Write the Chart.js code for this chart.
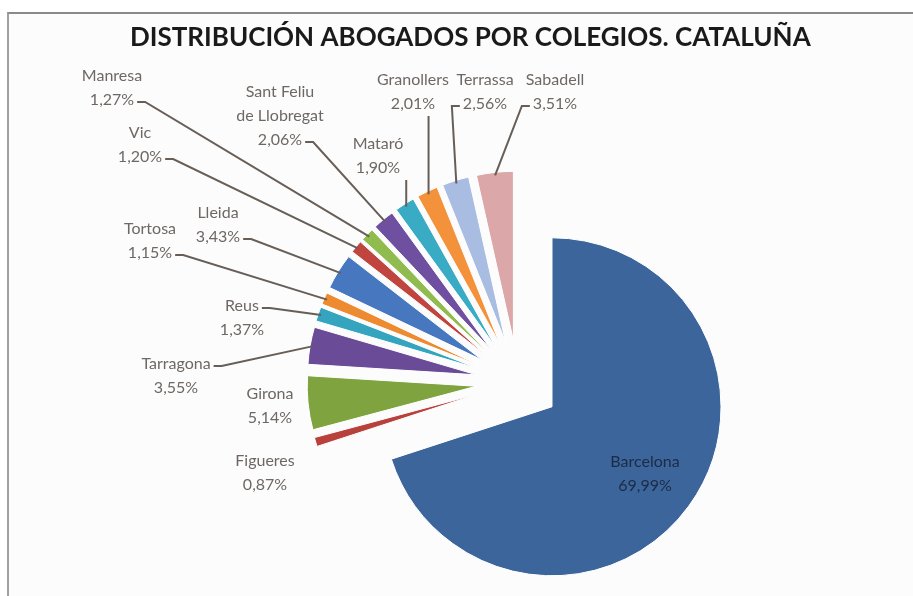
<!DOCTYPE html>
<html>
<head>
<meta charset="utf-8">
<script src="https://cdn.jsdelivr.net/npm/chart.js@4.4.1/dist/chart.umd.min.js"></script>
<style>
html, body { margin: 0; padding: 0; background: #fff; }
#wrap { position: relative; width: 913px; height: 596px; overflow: hidden; }
#frame { position: absolute; left: 7px; top: 12px; width: 920px; height: 600px;
  border-left: 2px solid #a0a0a0; border-top: 2px solid #8a8a8a; background: #fcfcfc; }
canvas { position: absolute; left: 0; top: 0; }
</style>
</head>
<body>
<div id="wrap">
  <div id="frame"></div>
  <canvas id="chart" width="913" height="596"></canvas>
</div>
<script>
// datos
const colegios = ['Barcelona', 'Figueres', 'Girona', 'Tarragona', 'Reus', 'Tortosa', 'Lleida',
  'Vic', 'Manresa', 'Sant Feliu de Llobregat', 'Mataró', 'Granollers', 'Terrassa', 'Sabadell'];
const porcentajes = [69.99, 0.87, 5.14, 3.55, 1.37, 1.15, 3.43, 1.20, 1.27, 2.06, 1.90, 2.01, 2.56, 3.51];

const colores = ['#3c659b', '#b8413c', '#7fa33f', '#6a4b98', '#35a4be', '#ee8a30', '#4677bf',
  '#c0453f', '#90bb4e', '#6f4fa0', '#3aabc5', '#f3923a', '#a9bde2', '#dca7a8'];

// posiciones de las etiquetas (centro de la primera linea) y de donde sale la guia
const labelPos = [[645, 462], [265, 461], [270, 394], [176, 364], [242, 306], [150, 229], [218, 213],
  [140, 133], [112, 76], [280, 92], [378, 144], [413, 80], [485, 80], [555, 80]];
const leaderFrom = [null, null, null, 'right1', 'right1', 'right', 'right',
  'right', 'right', 'right', 'below', 'below', 'left', 'left'];

const explode = 42;
const lineH = 24;

function lineas(i) {
  const nombre = colegios[i].length > 12 ? colegios[i].replace(' de ', '\nde ') : colegios[i];
  return nombre.split('\n').concat(porcentajes[i].toFixed(2).replace('.', ',') + '%');
}

const explodePlugin = {
  id: 'explode',
  afterDatasetUpdate(chart, args) {
    chart.getDatasetMeta(args.index).data.forEach(arc => {
      const mid = (arc.startAngle + arc.endAngle) / 2;
      arc.x += Math.cos(mid) * explode;
      arc.y += Math.sin(mid) * explode;
    });
  }
};

const labelsPlugin = {
  id: 'etiquetas',
  afterDatasetsDraw(chart) {
    const ctx = chart.ctx;
    const arcs = chart.getDatasetMeta(0).data;
    ctx.save();
    ctx.font = '16px Lato';
    ctx.textAlign = 'center';
    ctx.textBaseline = 'middle';
    arcs.forEach((arc, i) => {
      const ls = lineas(i);
      const [lx, ly] = labelPos[i];
      ctx.fillStyle = i === 0 ? '#1c2b45' : '#6e6864';
      ls.forEach((t, k) => ctx.fillText(t, lx, ly + k * lineH));

      const side = leaderFrom[i];
      if (!side) return;
      const mid = (arc.startAngle + arc.endAngle) / 2;
      const ex = arc.x + Math.cos(mid) * (arc.outerRadius - 3);
      const ey = arc.y + Math.sin(mid) * (arc.outerRadius - 3);
      const k = side === 'right1' ? 0 : ls.length - 1;
      const w = ctx.measureText(ls[k]).width;
      const ty = ly + k * lineH + 2;
      ctx.strokeStyle = '#675e58';
      ctx.lineWidth = 2;
      ctx.beginPath();
      if (side === 'below') {
        ctx.moveTo(ex, ty + 10);
        ctx.lineTo(ex, ey);
      } else if (side === 'left') {
        const sx = lx - w / 2 - 3;
        ctx.moveTo(sx, ty);
        ctx.lineTo(sx - 8, ty);
        ctx.lineTo(ex, ey);
      } else {
        const sx = lx + w / 2 + 3;
        ctx.moveTo(sx, ty);
        ctx.lineTo(sx + 8, ty);
        ctx.lineTo(ex, ey);
      }
      ctx.stroke();
    });
    ctx.restore();
  }
};

new Chart(document.getElementById('chart'), {
  type: 'pie',
  data: {
    labels: colegios,
    datasets: [{
      data: porcentajes,
      backgroundColor: colores,
      borderColor: '#ffffff',
      borderWidth: 1
    }]
  },
  options: {
    responsive: false,
    animation: false,
    events: [],
    radius: 169,
    layout: { padding: { left: 130, right: 7, top: 0, bottom: 0 } },
    plugins: {
      legend: { display: false },
      tooltip: { enabled: false },
      title: {
        display: true,
        text: 'DISTRIBUCIÓN ABOGADOS POR COLEGIOS. CATALUÑA',
        align: 'start',
        color: '#1a1a1a',
        font: { family: 'Lato', size: 26, weight: 'bold', lineHeight: 1.2 },
        padding: { top: 22, bottom: 115 }
      }
    }
  },
  plugins: [explodePlugin, labelsPlugin]
});
</script>
</body>
</html>
